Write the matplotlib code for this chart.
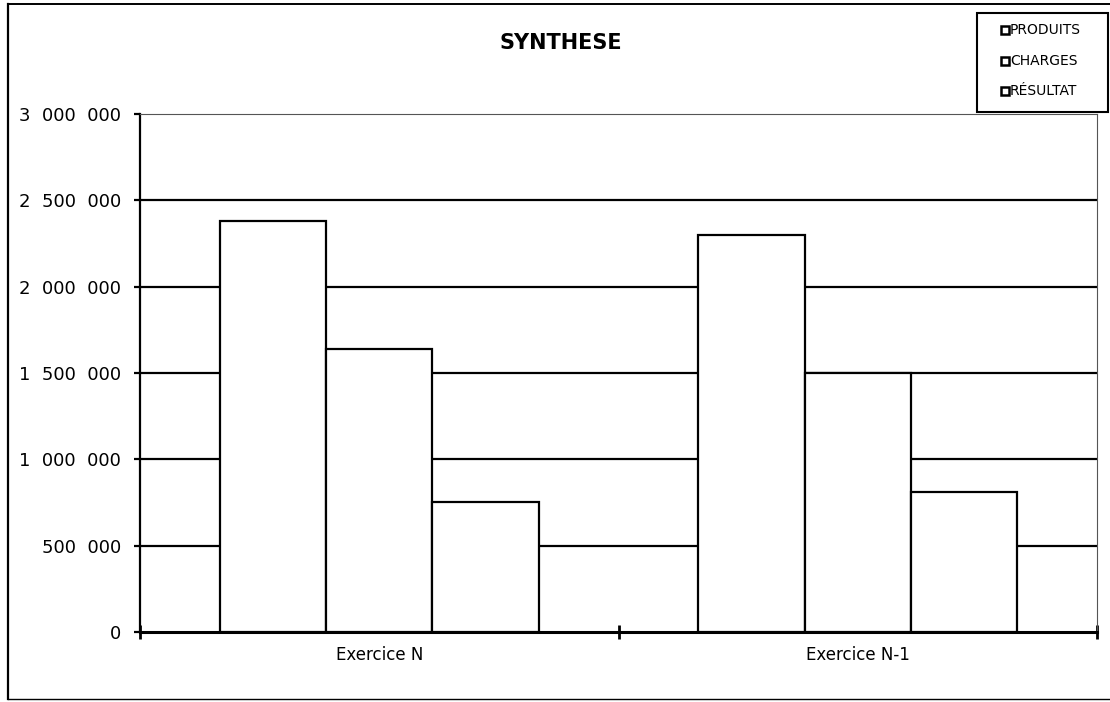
import matplotlib
matplotlib.use("Agg")
import matplotlib.pyplot as plt
import numpy as np
from matplotlib.lines import Line2D
from matplotlib.patches import Rectangle
from matplotlib.ticker import FuncFormatter, FixedLocator

# Données du graphique
categories = ["Exercice N", "Exercice N-1"]
series_names = ["PRODUITS", "CHARGES", "RÉSULTAT"]
produits = [2380000, 2300000]
charges = [1640000, 1500000]
resultat = [755000, 810000]
y_ticks = [0, 500000, 1000000, 1500000, 2000000, 2500000, 3000000]

W, H = 1110, 702


def fx(px):
    return px / W


def fy(py):
    return 1 - py / H


def fmt_milliers(v, pos):
    return f"{int(v):,}".replace(",", "  ")


def draw_chart():
    fig = plt.figure(figsize=(W / 100, H / 100), dpi=100)
    fig.patch.set_facecolor("white")

    ax = fig.add_axes([fx(140), fy(632), fx(1097) - fx(140), fy(114) - fy(632)])

    values = [produits, charges, resultat]
    x = np.arange(len(categories))
    width = 1 / 4.5
    for i, vals in enumerate(values):
        ax.bar(x + (i - 1) * width, vals, width, color="white",
               edgecolor="black", linewidth=1.6, zorder=3)

    ax.set_xlim(-0.5, len(categories) - 0.5)
    ax.set_ylim(y_ticks[0], y_ticks[-1])

    # quadrillage horizontal (sans 0 ni le haut)
    ax.set_yticks(y_ticks)
    ax.yaxis.set_major_formatter(FuncFormatter(fmt_milliers))
    ax.yaxis.grid(True, color="black", linewidth=1.6, zorder=1)
    ax.set_axisbelow(True)
    gl = ax.get_ygridlines()
    gl[0].set_visible(False)
    gl[-1].set_visible(False)

    # axe X : séparateurs en major, libellés en minor
    ax.xaxis.set_major_locator(FixedLocator(np.arange(-0.5, len(categories), 1.0)))
    ax.xaxis.set_major_formatter(FuncFormatter(lambda v, p: ""))
    ax.xaxis.set_minor_locator(FixedLocator(x))
    ax.set_xticklabels(categories, minor=True)
    ax.tick_params(axis="x", which="major", direction="inout", length=10, width=2)
    ax.tick_params(axis="x", which="minor", length=0, pad=10, labelsize=12)
    ax.tick_params(axis="y", direction="out", length=4.5, width=1.6, pad=9, labelsize=13)

    for lab in ax.get_yticklabels():
        lab.set_horizontalalignment("right")

    ax.spines["left"].set_linewidth(1.6)
    ax.spines["bottom"].set_linewidth(2.2)
    for s in ["top", "right"]:
        ax.spines[s].set_linestyle((0, (2, 1)))
        ax.spines[s].set_linewidth(0.8)
        ax.spines[s].set_color("#555555")

    # titre
    fig.text(fx(561), fy(43), "SYNTHESE", ha="center", va="center",
             fontsize=15, fontweight="heavy")

    # légende faite à la main pour coller à la position
    fig.add_artist(Rectangle((fx(977), fy(112)), fx(1108) - fx(977), fy(13) - fy(112),
                             transform=fig.transFigure, facecolor="white",
                             edgecolor="black", linewidth=1.5))
    for name, py in zip(series_names, [30, 61, 91]):
        fig.add_artist(Line2D([fx(1004.5)], [fy(py)], marker="s", markersize=6,
                              markerfacecolor="white", markeredgecolor="black",
                              markeredgewidth=1.8, transform=fig.transFigure))
        fig.text(fx(1010), fy(py), name, ha="left", va="center", fontsize=10)

    # cadre extérieur
    fig.add_artist(Line2D([fx(7.5), fx(7.5)], [fy(4), fy(699)], color="black",
                          linewidth=1.6, transform=fig.transFigure))
    fig.add_artist(Line2D([fx(7.5), 1], [fy(4), fy(4)], color="black",
                          linewidth=1.4, transform=fig.transFigure))
    fig.add_artist(Line2D([fx(7.5), 1], [fy(699), fy(699)], color="black",
                          linewidth=1.0, transform=fig.transFigure))
    return fig


def main():
    fig = draw_chart()
    fig.savefig("out.png", dpi=100)


if __name__ == "__main__":
    main()
